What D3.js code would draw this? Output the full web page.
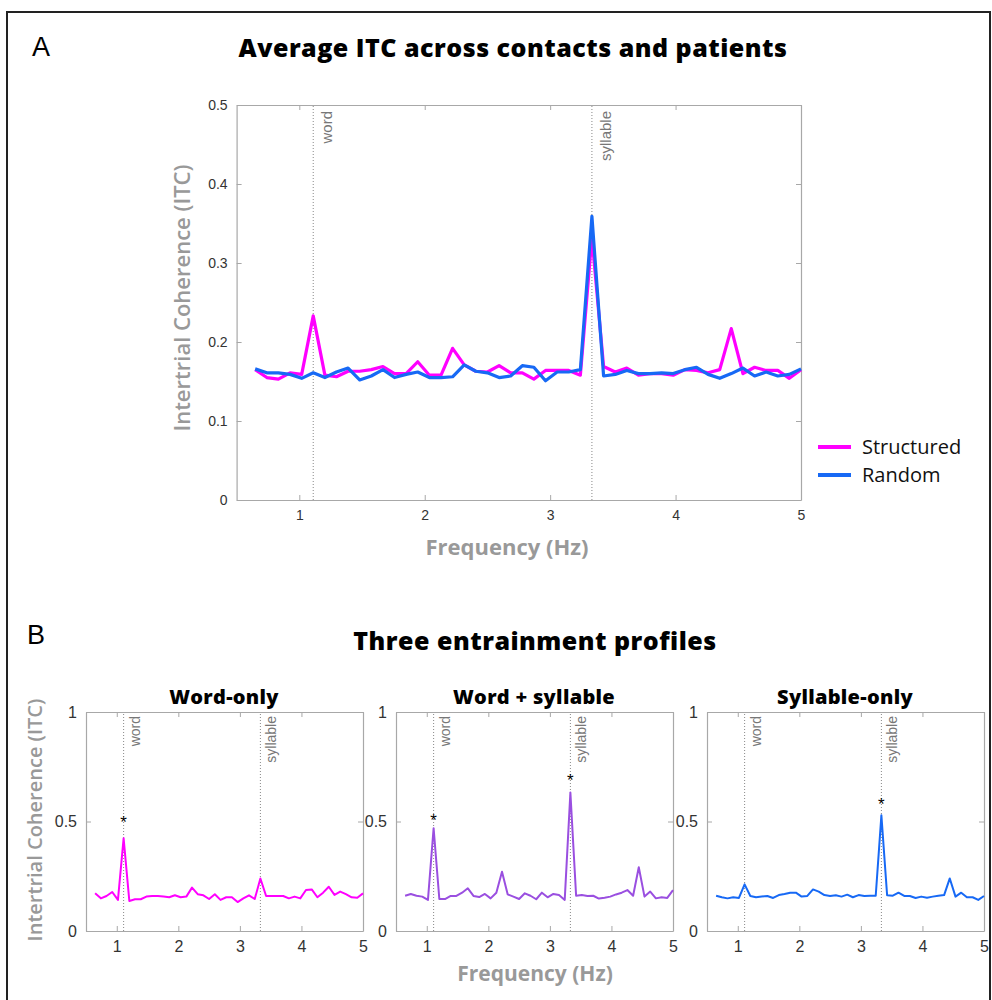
<!DOCTYPE html>
<html>
<head>
<meta charset="utf-8">
<script src="https://cdn.jsdelivr.net/npm/d3@7"></script>
<style>
  body { margin: 0; background: #fff; }
  svg text { font-family: "Open Sans", Lato, sans-serif; }
</style>
</head>
<body>
<div id="chart"></div>
<script>
// Frequencies (Hz), shared by all spectra
const freqs = [0.648, 0.741, 0.833, 0.926, 1.019, 1.111, 1.204, 1.296, 1.389, 1.481, 1.574, 1.667,
  1.759, 1.852, 1.944, 2.037, 2.130, 2.222, 2.315, 2.407, 2.500, 2.593, 2.685, 2.778,
  2.870, 2.963, 3.056, 3.148, 3.241, 3.333, 3.426, 3.519, 3.611, 3.704, 3.796, 3.889,
  3.981, 4.074, 4.167, 4.259, 4.352, 4.444, 4.537, 4.630, 4.722, 4.815, 4.907, 5.000];

// Panel A: average ITC
const structured = [0.165, 0.155, 0.153, 0.161, 0.159, 0.233, 0.158, 0.156, 0.163, 0.163, 0.165, 0.169,
  0.160, 0.160, 0.175, 0.158, 0.158, 0.192, 0.171, 0.163, 0.162, 0.170, 0.161, 0.161,
  0.153, 0.164, 0.164, 0.164, 0.158, 0.333, 0.169, 0.162, 0.167, 0.158, 0.160, 0.160,
  0.158, 0.165, 0.164, 0.161, 0.165, 0.217, 0.160, 0.168, 0.164, 0.164, 0.154, 0.165];
const random = [0.166, 0.161, 0.161, 0.159, 0.154, 0.161, 0.155, 0.162, 0.167, 0.152, 0.157, 0.165,
  0.155, 0.159, 0.162, 0.155, 0.155, 0.156, 0.171, 0.163, 0.161, 0.155, 0.157, 0.170,
  0.168, 0.151, 0.162, 0.162, 0.165, 0.359, 0.157, 0.159, 0.164, 0.160, 0.160, 0.161,
  0.160, 0.165, 0.168, 0.159, 0.154, 0.160, 0.167, 0.157, 0.162, 0.157, 0.159, 0.166];

// Panel B: three entrainment profiles
const wordOnly = [0.172, 0.149, 0.160, 0.178, 0.142, 0.423, 0.137, 0.145, 0.145, 0.157, 0.160, 0.160,
  0.157, 0.154, 0.163, 0.154, 0.157, 0.198, 0.168, 0.163, 0.146, 0.168, 0.142, 0.154,
  0.154, 0.132, 0.149, 0.163, 0.146, 0.240, 0.160, 0.160, 0.160, 0.160, 0.149, 0.157,
  0.149, 0.187, 0.190, 0.154, 0.175, 0.202, 0.165, 0.180, 0.168, 0.154, 0.152, 0.172];
const wordSyllable = [0.161, 0.169, 0.161, 0.157, 0.142, 0.469, 0.146, 0.146, 0.160, 0.160, 0.175, 0.195,
  0.160, 0.155, 0.169, 0.149, 0.175, 0.271, 0.167, 0.157, 0.146, 0.172, 0.161, 0.145,
  0.175, 0.154, 0.169, 0.164, 0.142, 0.632, 0.161, 0.164, 0.160, 0.161, 0.148, 0.152,
  0.157, 0.167, 0.175, 0.187, 0.161, 0.291, 0.157, 0.180, 0.149, 0.154, 0.151, 0.187];
const syllableOnly = [0.161, 0.154, 0.149, 0.154, 0.151, 0.213, 0.160, 0.154, 0.157, 0.160, 0.151, 0.164,
  0.169, 0.175, 0.175, 0.157, 0.160, 0.190, 0.180, 0.164, 0.160, 0.163, 0.157, 0.166,
  0.154, 0.164, 0.160, 0.161, 0.161, 0.528, 0.163, 0.161, 0.175, 0.160, 0.160, 0.151,
  0.157, 0.152, 0.157, 0.161, 0.164, 0.240, 0.157, 0.175, 0.154, 0.154, 0.142, 0.160];

// Reference frequencies and significance stars
const markers = [{label: "word", f: 1.111}, {label: "syllable", f: 3.333}];
const ticksA = [0, 0.1, 0.2, 0.3, 0.4, 0.5];
const ticksB = [0, 0.5, 1];
const ticksX = [1, 2, 3, 4, 5];
const profiles = [
  {title: "Word-only", values: wordOnly, color: "#ff00ff", stars: [{f: 1.111, v: 0.505}]},
  {title: "Word + syllable", values: wordSyllable, color: "#9a4fe0", stars: [{f: 1.111, v: 0.515}, {f: 3.333, v: 0.697}]},
  {title: "Syllable-only", values: syllableOnly, color: "#1769f5", stars: [{f: 3.333, v: 0.588}]}
];

const svg = d3.select("#chart").append("svg")
    .attr("width", 992)
    .attr("height", 1000);

// Outer frame
svg.append("rect")
    .attr("x", 7).attr("y", 12)
    .attr("width", 983).attr("height", 1000)
    .attr("fill", "none")
    .attr("stroke", "#222")
    .attr("stroke-width", 2);

const axisGray = "#a8a8a8";
const helv = "'Liberation Sans', Arial, sans-serif";

// Draws a MATLAB-like boxed axes (ticks inside on all four sides)
function drawAxes(g, x, y, yTicks, yFmt, fontSize) {
    let x0 = x.range()[0], x1 = x.range()[1];
    let y0 = y.range()[0], y1 = y.range()[1];

    let bottom = g.append("g")
        .attr("transform", "translate(0," + y0 + ")")
        .call(d3.axisBottom(x).tickValues(ticksX).tickSizeInner(-5).tickSizeOuter(0).tickPadding(10).tickFormat(d3.format("d")));
    let top = g.append("g")
        .attr("transform", "translate(0," + y1 + ")")
        .call(d3.axisTop(x).tickValues(ticksX).tickSizeInner(-5).tickSizeOuter(0).tickFormat(""));
    let left = g.append("g")
        .attr("transform", "translate(" + x0 + ",0)")
        .call(d3.axisLeft(y).tickValues(yTicks).tickSizeInner(-5).tickSizeOuter(0).tickPadding(9).tickFormat(yFmt));
    let right = g.append("g")
        .attr("transform", "translate(" + x1 + ",0)")
        .call(d3.axisRight(y).tickValues(yTicks).tickSizeInner(-5).tickSizeOuter(0).tickFormat(""));

    [bottom, top, left, right].forEach(function(a) {
        a.select(".domain").attr("stroke", axisGray).attr("stroke-width", 1.2);
        a.selectAll(".tick line").attr("stroke", axisGray);
        a.selectAll("text").attr("fill", "#333").style("font-size", fontSize + "px")
            .style("font-family", helv);
    });
}

function drawMarkers(g, x, y, fontSize, dx, dy) {
    markers.forEach(function(m) {
        g.append("line")
            .attr("x1", x(m.f)).attr("x2", x(m.f))
            .attr("y1", y.range()[0]).attr("y2", y.range()[1])
            .attr("stroke", "#888")
            .attr("stroke-width", 1)
            .attr("stroke-dasharray", "1,2");
        g.append("text")
            .attr("transform", "translate(" + (x(m.f) + dx) + "," + (y.range()[1] + dy) + ") rotate(-90)")
            .attr("text-anchor", "end")
            .attr("fill", "#777")
            .style("font-size", fontSize + "px")
            .style("font-family", helv)
            .text(m.label);
    });
}

// ---------- Panel A ----------
svg.append("text").attr("x", 32).attr("y", 56)
    .style("font-size", "27px").style("font-family", helv)
    .text("A");
svg.append("text").attr("x", 513).attr("y", 57)
    .attr("text-anchor", "middle")
    .style("font-size", "25px").style("font-weight", "800").style("letter-spacing", "0.5px")
    .text("Average ITC across contacts and patients");

let xA = d3.scaleLinear().domain([0.5, 5]).range([236.6, 801]);
let yA = d3.scaleLinear().domain([0, 0.5]).range([500, 105]);
let gA = svg.append("g");

drawMarkers(gA, xA, yA, 15, 19, 6);
drawAxes(gA, xA, yA, ticksA, function(d) { return d === 0 ? "0" : d3.format(".1f")(d); }, 14);

let lineA = d3.line()
    .x(function(d, i) { return xA(freqs[i]); })
    .y(function(d) { return yA(d); });

gA.append("path").datum(structured)
    .attr("d", lineA).attr("fill", "none")
    .attr("stroke", "#ff00ff").attr("stroke-width", 3.2).attr("stroke-linejoin", "round");
gA.append("path").datum(random)
    .attr("d", lineA).attr("fill", "none")
    .attr("stroke", "#1769f5").attr("stroke-width", 3.2).attr("stroke-linejoin", "round");

svg.append("text")
    .attr("transform", "translate(190,298) rotate(-90)")
    .attr("text-anchor", "middle")
    .attr("fill", "#999")
    .style("font-size", "22px").style("font-weight", "600")
    .text("Intertrial Coherence (ITC)");
svg.append("text").attr("x", 507).attr("y", 555)
    .attr("text-anchor", "middle").attr("fill", "#999")
    .style("font-size", "22px").style("font-weight", "700")
    .text("Frequency (Hz)");

// Legend
let legend = [{name: "Structured", color: "#ff00ff"}, {name: "Random", color: "#1769f5"}];
legend.forEach(function(l, i) {
    let ly = 447 + i * 28;
    svg.append("line")
        .attr("x1", 818).attr("x2", 851).attr("y1", ly).attr("y2", ly)
        .attr("stroke", l.color).attr("stroke-width", 4);
    svg.append("text").attr("x", 862).attr("y", ly + 7)
        .style("font-size", "20px").attr("fill", "#111")
        .text(l.name);
});

// ---------- Panel B ----------
svg.append("text").attr("x", 27).attr("y", 644)
    .style("font-size", "27px").style("font-family", helv)
    .text("B");
svg.append("text").attr("x", 535).attr("y", 650)
    .attr("text-anchor", "middle")
    .style("font-size", "25px").style("font-weight", "800").style("letter-spacing", "0.5px")
    .text("Three entrainment profiles");

let subLeft = [86, 396, 707];
profiles.forEach(function(p, i) {
    let x = d3.scaleLinear().domain([0.5, 5]).range([subLeft[i], subLeft[i] + 277]);
    let y = d3.scaleLinear().domain([0, 1]).range([931, 712]);
    let g = svg.append("g");

    g.append("text").attr("x", subLeft[i] + 138).attr("y", 704)
        .attr("text-anchor", "middle")
        .style("font-size", "20px").style("font-weight", "800").style("letter-spacing", "0.3px")
        .text(p.title);

    drawMarkers(g, x, y, 14, 16, 4);
    drawAxes(g, x, y, ticksB, function(d) { return d === 0.5 ? "0.5" : d3.format("d")(d); }, 16);

    g.append("path").datum(p.values)
        .attr("d", d3.line()
            .x(function(d, j) { return x(freqs[j]); })
            .y(function(d) { return y(d); }))
        .attr("fill", "none")
        .attr("stroke", p.color).attr("stroke-width", 2).attr("stroke-linejoin", "round");

    g.selectAll(".star").data(p.stars).enter().append("text")
        .attr("class", "star")
        .attr("x", function(d) { return x(d.f); })
        .attr("y", function(d) { return y(d.v) + 8; })
        .attr("text-anchor", "middle")
        .style("font-size", "17px")
        .style("font-family", helv)
        .text("*");
});

svg.append("text")
    .attr("transform", "translate(42,820) rotate(-90)")
    .attr("text-anchor", "middle")
    .attr("fill", "#999")
    .style("font-size", "20px").style("font-weight", "600")
    .text("Intertrial Coherence (ITC)");
svg.append("text").attr("x", 535).attr("y", 981)
    .attr("text-anchor", "middle").attr("fill", "#999")
    .style("font-size", "21px").style("font-weight", "700")
    .text("Frequency (Hz)");
</script>
</body>
</html>
